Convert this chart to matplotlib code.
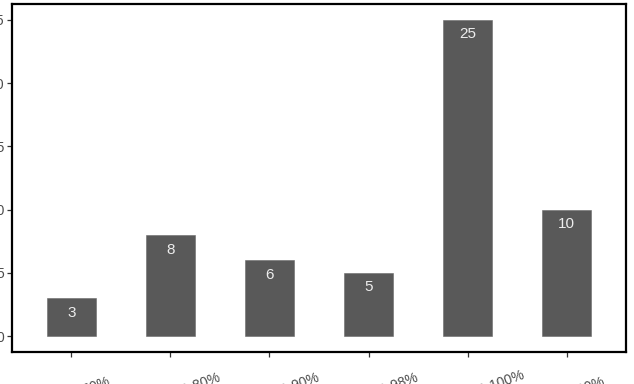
import matplotlib
matplotlib.use("Agg")
import matplotlib.pyplot as plt
import matplotlib.transforms as mtransforms

plt.rcParams['font.family'] = ['Liberation Sans', 'DejaVu Sans']

categories = ["<50%", "50-80%", "80-90%", "90-98%", "98-100%", "100%"]
counts = [3, 8, 6, 5, 25, 10]
y_ticks = [0, 5, 10, 15, 20, 25]

fig = plt.figure(figsize=(6.34, 3.84), dpi=100)
ax = fig.add_axes([12/634, 1 - 352/384, (626 - 12)/634, (352 - 4)/384])

x = list(range(1, len(categories) + 1))
ax.bar(x, counts, width=0.5, color="#595959", edgecolor="#6a6a6a", linewidth=0.4, zorder=2)

for xi, v in zip(x, counts):
    ax.annotate(str(v), xy=(xi, v), xytext=(0, -10.5), textcoords="offset points",
                ha="center", va="center", color="#EDEDED", fontsize=11)

ax.set_xlim(0.4, 6.6)
ax.set_ylim(-1.25, 26.25)
ax.set_yticks(y_ticks)
ax.set_yticklabels([str(t) for t in y_ticks])
ax.set_xticks(x)
ax.set_xticklabels(categories)

for s in ax.spines.values():
    s.set_linewidth(1.6)
    s.set_color("black")

ax.tick_params(axis="both", length=3.6, width=0.9, color="#333333",
               labelcolor="#4D4D4D", labelsize=10)
ax.tick_params(axis="y", pad=2)
ax.tick_params(axis="x", pad=21.5)

offset = mtransforms.ScaledTranslation(2/100, 0, fig.dpi_scale_trans)
for lbl in ax.get_xticklabels():
    lbl.set_rotation(20)
    lbl.set_rotation_mode("anchor")
    lbl.set_ha("left")
    lbl.set_va("top")
    lbl.set_transform(lbl.get_transform() + offset)

fig.savefig("out.png", dpi=100)
